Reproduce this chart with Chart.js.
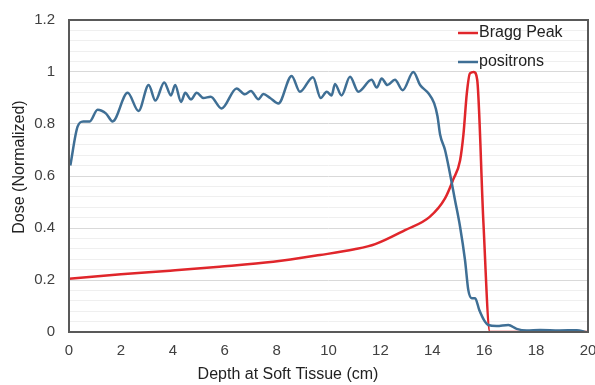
<!DOCTYPE html>
<html>
<head>
<meta charset="utf-8">
<script src="https://cdn.jsdelivr.net/npm/chart.js@4.4.1/dist/chart.umd.min.js"></script>
<style>
  html, body { margin: 0; padding: 0; background: #fff; }
  #wrap { width: 595px; height: 385px; position: relative; }
</style>
</head>
<body>
<div id="wrap"><canvas id="chart" width="595" height="385"></canvas></div>
<script>
// depth (cm) and normalized dose
const braggDepth = [0, 2, 3.9, 5.8, 7.87, 9.67, 11.0, 11.8, 12.95, 13.9, 14.49, 14.8, 15.07, 15.2, 15.33, 15.45, 15.6, 15.73, 15.97, 16.22, 17, 18, 19, 20];
const braggDose = [0.205, 0.222, 0.236, 0.251, 0.27, 0.296, 0.318, 0.338, 0.392, 0.443, 0.514, 0.585, 0.66, 0.76, 0.918, 0.995, 1.0, 0.97, 0.42, 0.0, 0, 0, 0, 0];

const positronDepth = [0.05, 0.33, 0.55, 0.8, 1.1, 1.43, 1.68, 2.26, 2.68, 3.07, 3.33, 3.67, 3.93, 4.09, 4.32, 4.48, 4.7, 4.92, 5.18, 5.46, 5.88, 6.46, 6.78, 7.01, 7.3, 7.49, 7.75, 8.07, 8.58, 8.9, 9.4, 9.7, 9.93, 10.12, 10.25, 10.5, 10.83, 11.15, 11.66, 11.86, 12.05, 12.27, 12.56, 12.86, 13.27, 13.53, 13.85, 14.07, 14.2, 14.3, 14.49, 14.68, 14.87, 15.07, 15.26, 15.39, 15.52, 15.65, 15.81, 16.03, 16.16, 16.48, 16.93, 17.25, 17.64, 18.15, 18.9, 19.57, 19.9];
const positronDose = [0.64, 0.79, 0.81, 0.81, 0.855, 0.84, 0.81, 0.92, 0.85, 0.95, 0.89, 0.96, 0.91, 0.95, 0.885, 0.92, 0.895, 0.92, 0.90, 0.905, 0.86, 0.937, 0.914, 0.927, 0.895, 0.915, 0.90, 0.879, 0.985, 0.924, 0.98, 0.90, 0.924, 0.91, 0.954, 0.91, 0.982, 0.924, 0.97, 0.94, 0.975, 0.95, 0.97, 0.93, 1.0, 0.95, 0.918, 0.88, 0.83, 0.76, 0.70, 0.61, 0.51, 0.405, 0.277, 0.16, 0.13, 0.13, 0.085, 0.04, 0.027, 0.023, 0.027, 0.012, 0.006, 0.008, 0.006, 0.007, 0.0];

const seriesNames = ['Bragg Peak', 'positrons'];
const xTickLabels = ['0', '2', '4', '6', '8', '10', '12', '14', '16', '18', '20'];
const yTickLabels = ['0', '0.2', '0.4', '0.6', '0.8', '1', '1.2'];

const xTitle = 'Depth at Soft Tissue (cm)';
const yTitle = 'Dose (Normalized)';

const toPoints = (xs, ys) => xs.map((x, i) => ({ x: x, y: ys[i] }));
const isMajor = v => yTickLabels.some(l => Math.abs(parseFloat(l) - v) < 1e-6);

// legend inside the plot, border box, and axis titles
const decorations = {
    id: 'decorations',
    afterDatasetsDraw(chart) {
        const { ctx, chartArea: a } = chart;
        ctx.save();
        ctx.strokeStyle = '#595959';
        ctx.lineWidth = 2;
        ctx.strokeRect(a.left, a.top, a.right - a.left, a.bottom - a.top);

        ctx.font = '16px "Liberation Sans", Arial, sans-serif';
        ctx.textBaseline = 'middle';
        chart.data.datasets.forEach((ds, i) => {
            const y = 33 + i * 29;
            ctx.strokeStyle = ds.borderColor;
            ctx.lineWidth = 2.5;
            ctx.beginPath();
            ctx.moveTo(458, y);
            ctx.lineTo(478, y);
            ctx.stroke();
            ctx.fillStyle = '#222';
            ctx.textAlign = 'left';
            ctx.fillText(ds.label, 479, y);
        });

        ctx.fillStyle = '#222';
        ctx.textAlign = 'center';
        ctx.fillText(xTitle, 288, 375);
        ctx.translate(20, 167);
        ctx.rotate(-Math.PI / 2);
        ctx.fillText(yTitle, 0, 0);
        ctx.restore();
    }
};

new Chart(document.getElementById('chart').getContext('2d'), {
    type: 'line',
    data: {
        datasets: [
            {
                label: seriesNames[0],
                data: toPoints(braggDepth, braggDose),
                borderColor: '#e0262b',
                borderWidth: 2.5,
                pointRadius: 0,
                cubicInterpolationMode: 'monotone',
                order: 2,
            },
            {
                label: seriesNames[1],
                data: toPoints(positronDepth, positronDose),
                borderColor: '#3f6f95',
                borderWidth: 2.5,
                pointRadius: 0,
                cubicInterpolationMode: 'monotone',
                order: 1,
            },
        ],
    },
    options: {
        responsive: false,
        animation: false,
        layout: { padding: { left: 0, top: 20, right: 7, bottom: 0 } },
        plugins: {
            legend: { display: false },
            tooltip: { enabled: false },
        },
        scales: {
            x: {
                type: 'linear',
                min: 0,
                max: 20,
                afterFit: s => { s.height = 53; s.paddingLeft = 0; s.paddingRight = 0; },
                afterBuildTicks: s => { s.ticks = xTickLabels.map(l => ({ value: parseFloat(l) })); },
                grid: { display: false, drawTicks: false },
                border: { display: false },
                ticks: {
                    padding: 10,
                    color: '#404040',
                    font: { family: '"Liberation Sans", Arial, sans-serif', size: 15 },
                    maxRotation: 0,
                    autoSkip: false,
                    callback: v => String(v),
                },
            },
            y: {
                min: 0,
                max: 1.2,
                afterFit: s => { s.width = 69; s.paddingTop = 0; s.paddingBottom = 0; },
                ticks: {
                    stepSize: 0.04,
                    padding: 14,
                    color: '#404040',
                    autoSkip: false,
                    font: { family: '"Liberation Sans", Arial, sans-serif', size: 15 },
                    callback: v => isMajor(v) ? yTickLabels.find(l => Math.abs(parseFloat(l) - v) < 1e-6) : '',
                },
                grid: {
                    drawTicks: false,
                    lineWidth: 1,
                    color: c => isMajor(c.tick.value) ? '#d9d9d9' : '#efefef',
                },
                border: { display: false },
            },
        },
    },
    plugins: [decorations],
});
</script>
</body>
</html>
